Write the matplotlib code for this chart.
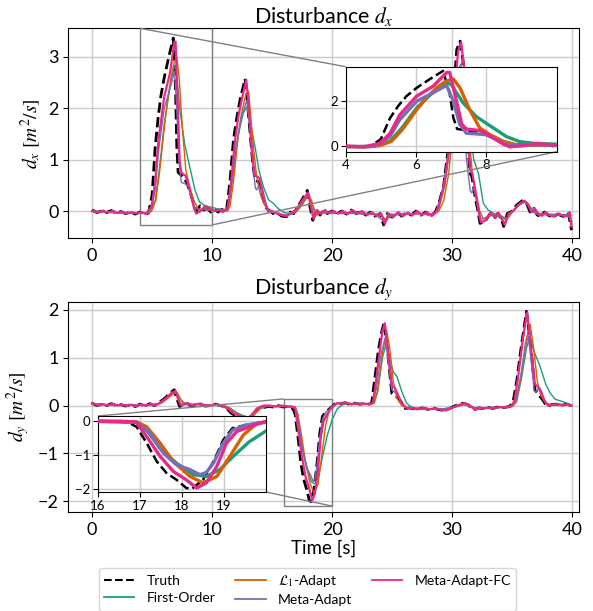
import numpy as np
import matplotlib
matplotlib.use("Agg")
import matplotlib.pyplot as plt
from matplotlib.lines import Line2D
from mpl_toolkits.axes_grid1.inset_locator import mark_inset

plt.rcParams['font.family'] = ['Lato', 'DejaVu Sans']
plt.rcParams['mathtext.fontset'] = 'stix'

# ---------------- data: disturbance d_x ----------------
dx_truth_t = [0.0, 0.4, 0.8, 1.2, 1.6, 2.0, 2.4, 2.8, 3.2, 3.6, 4.0, 4.4, 4.7, 5.0, 5.26, 5.5, 5.73, 6.02, 6.39, 6.77,
              6.96, 7.06, 7.17, 7.5, 7.9, 8.2, 8.48, 8.7, 9.0, 9.3, 9.6, 9.9, 10.2, 10.5, 10.8, 11.2, 11.5, 11.78, 12.05,
              12.33, 12.75, 12.95, 13.17, 13.4, 13.58, 13.86, 14.1, 14.28, 14.55, 14.83, 15.1, 15.4, 15.8, 16.2, 16.5,
              16.8, 17.06, 17.47, 17.94, 18.15, 18.39, 18.7, 19.0, 19.3, 19.6, 20.0, 20.4, 20.8, 21.2, 21.6, 22.0, 22.4,
              22.8, 23.2, 23.6, 24.0, 24.3, 24.6, 25.0, 25.4, 25.8, 26.2, 26.6, 27.0, 27.4, 27.8, 28.2, 28.6, 28.9, 29.28,
              29.7, 30.1, 30.39, 30.67, 30.94, 31.2, 31.5, 31.65, 31.92, 32.15, 32.33, 32.75, 33.17, 33.5, 33.8, 34.1,
              34.3, 34.6, 35.0, 35.4, 35.9, 36.2, 36.5, 36.8, 37.1, 37.4, 37.7, 38.0, 38.4, 38.8, 39.2, 39.5, 39.7, 39.95]
dx_truth_v = [0.02, -0.03, 0.0, -0.03, 0.01, -0.04, -0.01, -0.05, -0.02, -0.06, -0.02, -0.06, -0.04, 0.3, 1.24, 1.8,
              2.23, 2.6, 2.99, 3.36, 2.32, 1.26, 0.75, 0.68, 0.55, 0.35, 0.13, 0.0, 0.1, 0.02, 0.05, -0.02, 0.03, -0.02,
              0.03, 0.0, 0.6, 1.38, 1.8, 2.16, 2.57, 2.1, 1.51, 0.9, 0.6, 0.57, 0.4, 0.21, 0.05, 0.0, -0.05, -0.03, -0.1,
              -0.11, -0.02, -0.05, 0.05, 0.21, 0.4, 0.1, -0.18, 0.02, -0.08, 0.02, -0.05, 0.0, -0.05, 0.0, -0.06, 0.02,
              -0.05, 0.0, -0.08, -0.02, -0.1, -0.05, -0.27, -0.05, -0.12, -0.02, -0.1, -0.03, -0.08, 0.0, -0.08, -0.02,
              -0.1, -0.02, 0.15, 0.47, 1.25, 2.23, 3.14, 3.3, 2.88, 1.58, 0.73, 0.67, 0.28, 0.0, -0.24, -0.2, -0.05,
              -0.15, -0.05, -0.15, -0.3, -0.05, 0.0, 0.12, 0.21, 0.15, -0.02, 0.05, -0.08, -0.1, -0.02, -0.08, -0.12,
              -0.06, -0.1, -0.12, -0.05, -0.37]

dx_fo_t = [0, 1, 2, 3, 4, 4.8, 5.26, 5.6, 6.02, 6.45, 6.87, 7.0, 7.34, 7.72, 8.1, 8.57, 8.95, 9.4, 10.0, 10.5, 11.0, 11.4,
           11.8, 12.2, 12.6, 12.9, 13.2, 13.58, 13.9, 14.28, 14.7, 15.1, 15.5, 16.0, 16.6, 17.0, 17.5, 18.0, 18.3, 18.7,
           19.2, 20.0, 21.0, 22.0, 23.0, 24.0, 24.5, 25.0, 26.0, 27.0, 28.0, 28.5, 28.9, 29.4, 29.8, 30.2, 30.6, 30.9,
           31.2, 31.5, 31.8, 32.2, 32.6, 33.0, 33.5, 34.0, 34.5, 35.0, 35.6, 36.1, 36.5, 37.0, 38.0, 39.0, 39.7, 39.95]
dx_fo_v = [0.0, -0.02, -0.03, -0.04, -0.04, -0.03, 0.2, 0.8, 1.7, 2.35, 2.83, 2.75, 1.92, 1.3, 0.9, 0.41, 0.18, 0.1,
           0.07, 0.04, 0.02, 0.1, 0.8, 1.5, 1.9, 2.03, 1.7, 1.25, 0.8, 0.47, 0.22, 0.15, 0.05, -0.03, -0.05, 0.0, 0.12,
           0.33, 0.15, -0.05, -0.03, -0.04, -0.05, -0.04, -0.06, -0.07, -0.17, -0.08, -0.06, -0.05, -0.07, -0.06, 0.05,
           0.5, 1.2, 2.1, 2.7, 2.75, 2.2, 1.6, 1.0, 0.73, 0.15, 0.02, -0.05, -0.08, -0.15, -0.02, 0.12, 0.18, 0.08,
           -0.04, -0.06, -0.07, -0.07, -0.2]

dx_l1_t = [0, 1, 2, 3, 4, 4.6, 4.97, 5.3, 5.6, 6.02, 6.3, 6.58, 6.85, 7.06, 7.25, 7.53, 7.81, 8.1, 8.48, 8.86, 9.3, 9.8,
           10.3, 10.8, 11.3, 11.5, 11.8, 12.1, 12.45, 12.8, 13.03, 13.2, 13.44, 13.7, 14.0, 14.3, 14.55, 15.0, 15.5,
           16.0, 16.5, 17.0, 17.5, 18.05, 18.3, 18.6, 18.9, 19.3, 20, 21, 22, 23, 24, 24.5, 24.8, 25.5, 26.5, 27.5,
           28.5, 28.9, 29.3, 29.7, 30.1, 30.5, 30.9, 31.1, 31.4, 31.7, 32.0, 32.3, 32.6, 33.0, 33.5, 34.0, 34.5, 35.0,
           35.5, 36.05, 36.4, 36.7, 37.2, 38.0, 39.0, 39.7, 39.95]
dx_l1_v = [0.0, -0.02, -0.03, -0.04, -0.04, -0.05, 0.0, 0.2, 0.7, 1.62, 2.15, 2.6, 2.9, 3.0, 2.6, 1.6, 0.8, 0.5, 0.2,
           0.04, 0.03, 0.02, 0.0, 0.01, 0.0, 0.1, 0.6, 1.3, 1.9, 2.25, 2.33, 1.9, 1.25, 0.7, 0.34, 0.15, 0.05, -0.02,
           -0.05, -0.08, -0.07, -0.02, 0.12, 0.32, 0.2, -0.1, -0.05, -0.03, -0.03, -0.04, -0.04, -0.06, -0.06, -0.2,
           -0.08, -0.06, -0.06, -0.05, -0.07, 0.0, 0.2, 0.7, 1.6, 2.6, 2.97, 2.6, 1.5, 0.7, 0.35, 0.0, -0.15, -0.1,
           -0.08, -0.1, -0.18, -0.03, 0.1, 0.2, 0.12, 0.0, -0.06, -0.07, -0.08, -0.08, -0.25]

dx_meta_t = [0, 1, 2, 3, 4, 4.7, 5.0, 5.26, 5.54, 6.02, 6.49, 6.87, 7.06, 7.24, 7.43, 7.72, 8.0, 8.29, 8.57, 8.9, 9.4,
             9.9, 10.5, 11.0, 11.3, 11.6, 12.0, 12.4, 12.9, 13.15, 13.4, 13.6, 13.72, 13.9, 14.2, 14.5, 14.9, 15.5, 16.2,
             16.8, 17.3, 18.0, 18.2, 18.5, 18.8, 19.3, 20.5, 21.5, 22.5, 23.5, 24.35, 24.8, 26.0, 27.0, 28.0, 28.7, 29.1,
             29.5, 29.9, 30.3, 30.7, 30.95, 31.2, 31.5, 31.65, 31.8, 32.0, 32.3, 32.8, 33.3, 33.8, 34.4, 34.8, 35.5, 36.0,
             36.4, 36.7, 37.2, 38.0, 39.0, 39.7, 39.95]
dx_meta_v = [0.0, -0.02, -0.03, -0.04, -0.04, -0.04, 0.1, 0.42, 1.17, 2.0, 2.38, 2.71, 2.0, 0.97, 0.56, 0.53, 0.49, 0.26,
             0.06, 0.02, 0.05, 0.02, 0.01, 0.02, 0.05, 0.5, 1.25, 1.8, 2.15, 1.6, 0.9, 0.45, 0.41, 0.5, 0.3, 0.08, -0.02,
             -0.05, -0.08, -0.03, 0.1, 0.35, 0.15, -0.1, -0.01, -0.03, -0.05, -0.04, -0.06, -0.06, -0.2, -0.06, -0.07,
             -0.05, -0.07, -0.03, 0.25, 0.8, 1.7, 2.5, 2.85, 2.2, 1.0, 0.41, 0.35, 0.45, 0.25, -0.15, -0.15, -0.06, -0.1,
             -0.22, -0.05, 0.1, 0.18, 0.1, -0.02, -0.07, -0.07, -0.07, -0.08, -0.22]

dx_fc_t = [0.0, 0.5, 0.9, 1.3, 1.7, 2.1, 2.5, 2.9, 3.3, 3.7, 4.1, 4.5, 4.97, 5.26, 5.54, 6.02, 6.49, 6.87, 6.96, 7.15,
           7.3, 7.43, 7.81, 8.1, 8.48, 8.67, 9.05, 9.43, 9.8, 10.2, 10.6, 10.9, 11.3, 11.6, 11.9, 12.2, 12.5, 12.85,
           13.05, 13.3, 13.55, 13.94, 14.2, 14.45, 14.7, 15.0, 15.4, 15.8, 16.2, 16.6, 17.0, 17.5, 18.0, 18.2, 18.45,
           18.75, 19.05, 19.4, 19.7, 20.1, 20.5, 20.9, 21.3, 21.7, 22.1, 22.5, 22.9, 23.3, 23.7, 24.1, 24.4, 24.7, 25.1,
           25.5, 25.9, 26.3, 26.7, 27.1, 27.5, 27.9, 28.3, 28.7, 29.0, 29.4, 29.8, 30.2, 30.5, 30.75, 31.0, 31.25, 31.5,
           31.7, 32.0, 32.4, 32.8, 33.2, 33.6, 33.9, 34.4, 34.7, 35.1, 35.5, 36.0, 36.3, 36.6, 36.9, 37.2, 37.5, 37.8,
           38.1, 38.5, 38.9, 39.3, 39.6, 39.8, 39.95]
dx_fc_v = [0.0, -0.03, 0.01, -0.03, 0.0, -0.04, -0.01, -0.05, -0.02, -0.05, -0.02, -0.06, 0.1, 0.55, 1.39, 2.23, 2.68,
           3.29, 3.29, 2.0, 0.97, 0.75, 0.68, 0.45, 0.07, -0.05, 0.0, 0.1, 0.05, 0.0, 0.03, -0.02, 0.05, 0.6, 1.35,
           1.85, 2.2, 2.55, 2.05, 1.2, 0.7, 0.64, 0.4, 0.15, -0.02, 0.0, -0.05, -0.08, -0.1, -0.03, 0.02, 0.2, 0.36,
           0.12, -0.15, 0.02, -0.06, 0.02, -0.04, 0.0, -0.05, 0.0, -0.06, 0.02, -0.05, 0.0, -0.08, -0.02, -0.1, -0.05,
           -0.25, -0.05, -0.12, -0.02, -0.1, -0.03, -0.08, 0.0, -0.08, -0.02, -0.1, 0.0, 0.2, 0.6, 1.3, 2.3, 3.1, 3.28,
           2.8, 1.6, 0.8, 0.72, 0.3, -0.22, -0.18, -0.04, -0.13, -0.04, -0.27, -0.05, 0.0, 0.12, 0.2, 0.14, -0.02,
           0.05, -0.07, -0.09, -0.02, -0.08, -0.11, -0.05, -0.1, -0.1, -0.02, -0.3]

# ---------------- data: disturbance d_y ----------------
dy_truth_t = [0, 0.4, 0.8, 1.2, 1.6, 2.0, 2.4, 2.8, 3.2, 3.6, 4.0, 4.4, 4.8, 5.2, 5.5, 6.05, 6.5, 6.85, 7.05, 7.3, 7.6,
              7.85, 8.2, 8.5, 8.8, 9.05, 9.4, 9.9, 10.3, 10.7, 11.0, 11.3, 11.6, 12.0, 12.44, 12.8, 13.2, 13.7, 14.28,
              14.7, 15.1, 15.5, 15.9, 16.3, 16.6, 16.78, 16.92, 17.16, 17.4, 17.63, 17.87, 18.1, 18.23, 18.5, 18.75,
              18.98, 19.2, 19.5, 19.97, 20.3, 20.7, 21.1, 21.5, 21.9, 22.3, 22.7, 23.1, 23.3, 23.44, 23.86, 24.1, 24.33,
              24.7, 24.97, 25.4, 25.7, 26.1, 26.5, 27.0, 27.5, 28.0, 28.5, 29.0, 29.4, 29.8, 30.3, 30.9, 31.3, 31.8,
              32.2, 32.6, 33.0, 33.4, 33.8, 34.3, 34.8, 35.1, 35.4, 35.8, 36.2, 36.56, 36.9, 37.3, 37.6, 37.9, 38.3,
              38.7, 39.1, 39.5, 39.95]
dy_truth_v = [0.05, 0.0, 0.03, 0.0, 0.04, 0.0, 0.02, -0.01, 0.02, -0.02, 0.03, -0.01, 0.04, 0.0, 0.05, 0.15, 0.26, 0.33,
              0.15, -0.02, 0.03, 0.06, 0.0, 0.0, 0.05, 0.03, -0.01, 0.0, 0.03, 0.0, -0.02, -0.08, -0.16, -0.22, -0.26,
              -0.3, -0.25, -0.09, -0.04, -0.02, -0.03, 0.0, -0.03, -0.02, -0.03, -0.09, -0.18, -0.66, -1.2, -1.54, -1.74,
              -1.98, -2.01, -1.74, -1.2, -0.57, -0.22, -0.13, -0.03, 0.05, 0.04, 0.06, 0.02, 0.05, 0.03, 0.04, 0.03,
              0.05, 0.33, 1.16, 1.5, 1.74, 0.96, 0.26, 0.18, 0.1, -0.06, -0.05, -0.08, -0.05, -0.08, -0.06, -0.09, -0.1,
              -0.06, 0.0, 0.05, 0.02, -0.09, -0.05, -0.06, -0.04, -0.06, -0.03, -0.04, -0.02, 0.1, 0.54, 1.3, 1.97,
              1.23, 0.33, 0.2, 0.1, -0.02, 0.02, 0.03, 0.0, 0.03, 0.0]

dy_fo_t = [0, 1, 2, 3, 4, 5, 5.7, 6.2, 6.7, 7.0, 7.3, 7.7, 8.2, 9, 10, 11, 11.5, 12, 12.5, 13, 13.5, 14, 14.5, 15.5,
           16.5, 16.92, 17.16, 17.48, 17.87, 18.27, 18.58, 18.9, 19.22, 19.6, 20.0, 20.4, 20.8, 21.3, 22, 23, 23.5,
           23.8, 24.2, 24.5, 24.8, 25.1, 25.4, 25.8, 26.2, 26.6, 27, 28, 29, 30, 31, 32, 33, 34, 35, 35.4, 35.8, 36.2,
           36.5, 36.8, 37.33, 37.8, 38.17, 38.6, 39.0, 39.5, 39.95]
dy_fo_v = [0.03, 0.02, 0.01, 0.01, 0.01, 0.01, 0.05, 0.14, 0.24, 0.27, 0.15, 0.05, 0.03, 0.02, 0.01, -0.01, -0.06, -0.14,
           -0.2, -0.24, -0.18, -0.07, -0.02, -0.02, -0.02, -0.05, -0.28, -0.82, -1.25, -1.59, -1.64, -1.44, -1.05,
           -0.62, -0.3, -0.08, 0.01, 0.04, 0.04, 0.03, 0.05, 0.3, 1.0, 1.3, 1.0, 0.7, 0.61, 0.3, 0.05, -0.03, -0.05,
           -0.07, -0.08, -0.04, 0.02, -0.05, -0.05, -0.04, -0.02, 0.1, 0.6, 1.2, 1.45, 1.15, 0.82, 0.45, 0.26, 0.13,
           0.1, 0.06, 0.0]

dy_l1_t = [0, 1, 2, 3, 4, 5, 5.8, 6.3, 6.8, 7.1, 7.4, 7.7, 8.2, 9, 10, 11, 11.5, 12.0, 12.5, 13.0, 13.5, 14.0, 14.5, 15.5,
           16.5, 16.92, 17.16, 17.48, 17.79, 18.19, 18.5, 18.83, 19.14, 19.46, 19.78, 20.1, 20.5, 21, 22, 23, 23.5,
           23.8, 24.2, 24.56, 24.8, 25.1, 25.4, 25.8, 26.3, 27, 28, 29, 30, 31, 31.5, 32, 33, 34, 35, 35.3, 35.7, 36.1,
           36.5, 36.8, 37.1, 37.4, 37.8, 38.3, 39, 39.95]
dy_l1_v = [0.03, 0.02, 0.01, 0.01, 0.01, 0.01, 0.05, 0.15, 0.25, 0.27, 0.12, 0.02, 0.02, 0.02, 0.01, 0.0, -0.05, -0.15,
           -0.22, -0.27, -0.2, -0.06, 0.0, -0.01, -0.02, -0.03, -0.18, -0.66, -1.2, -1.64, -1.83, -1.64, -1.05, -0.42,
           -0.08, 0.0, 0.05, 0.05, 0.04, 0.03, 0.05, 0.3, 1.1, 1.55, 1.2, 0.5, 0.15, 0.0, -0.06, -0.06, -0.07, -0.08,
           -0.05, 0.02, 0.0, -0.06, -0.05, -0.04, -0.02, 0.05, 0.5, 1.3, 1.7, 1.2, 0.5, 0.2, 0.05, 0.02, 0.02, 0.0]

dy_meta_t = [0, 1, 2, 3, 4, 5, 5.6, 6.1, 6.6, 6.95, 7.2, 7.5, 8, 9, 10, 11, 11.4, 11.8, 12.3, 12.8, 13.2, 13.7, 14.2, 15,
             16, 16.92, 17.24, 17.56, 17.87, 18.19, 18.43, 18.58, 18.75, 18.98, 19.2, 19.5, 19.97, 20.4, 21, 22, 23,
             23.4, 23.7, 24.1, 24.42, 24.7, 24.95, 25.1, 25.4, 25.8, 26.2, 27, 28, 29, 30, 31, 31.6, 32, 33, 34, 35,
             35.3, 35.7, 36.1, 36.35, 36.6, 36.85, 37.0, 37.3, 37.6, 38.0, 38.5, 39, 39.95]
dy_meta_v = [0.04, 0.02, 0.01, 0.01, 0.02, 0.01, 0.05, 0.14, 0.25, 0.3, 0.12, 0.01, 0.03, 0.02, 0.01, -0.01, -0.06,
             -0.14, -0.22, -0.28, -0.22, -0.06, -0.01, -0.01, -0.02, -0.05, -0.37, -0.96, -1.3, -1.44, -1.59, -1.52,
             -1.25, -0.66, -0.28, -0.13, -0.05, 0.04, 0.05, 0.04, 0.03, 0.05, 0.35, 1.1, 1.41, 0.9, 0.35, 0.3, 0.25,
             0.05, -0.05, -0.06, -0.07, -0.08, -0.04, 0.03, -0.03, -0.06, -0.05, -0.04, -0.01, 0.1, 0.6, 1.2, 1.45, 0.9,
             0.3, 0.29, 0.38, 0.15, 0.0, 0.02, 0.03, 0.0]

dy_fc_t = [0, 0.5, 0.9, 1.3, 1.7, 2.1, 2.5, 2.9, 3.3, 3.7, 4.1, 4.5, 4.9, 5.3, 5.6, 6.15, 6.6, 6.95, 7.15, 7.4, 7.7, 7.95,
           8.3, 8.9, 9.5, 10.0, 10.4, 10.8, 11.4, 11.7, 12.1, 12.5, 12.9, 13.3, 13.8, 14.3, 14.8, 15.3, 15.8, 16.3,
           16.7, 16.92, 17.16, 17.48, 17.79, 18.1, 18.35, 18.58, 18.83, 19.06, 19.3, 19.6, 19.97, 20.4, 20.8, 21.2,
           21.6, 22.0, 22.4, 22.8, 23.2, 23.4, 23.6, 24.0, 24.2, 24.4, 24.75, 25.0, 25.2, 25.5, 25.8, 26.2, 26.6, 27.1,
           27.6, 28.1, 28.6, 29.1, 29.5, 29.9, 30.4, 31.0, 31.4, 31.9, 32.3, 32.7, 33.1, 33.5, 33.9, 34.4, 34.9, 35.2,
           35.5, 35.9, 36.25, 36.6, 36.9, 37.1, 37.4, 37.7, 38.0, 38.4, 38.8, 39.2, 39.6, 39.95]
dy_fc_v = [0.05, 0.0, 0.03, 0.0, 0.04, 0.0, 0.02, -0.01, 0.02, -0.02, 0.03, -0.01, 0.04, 0.0, 0.05, 0.15, 0.26, 0.31,
           0.15, 0.0, 0.04, 0.05, 0.0, 0.04, 0.0, 0.0, 0.03, 0.0, -0.08, -0.15, -0.2, -0.25, -0.28, -0.2, -0.05, 0.0,
           0.0, -0.02, 0.0, -0.02, -0.02, -0.05, -0.47, -1.05, -1.49, -1.74, -1.98, -1.83, -1.34, -0.66, -0.32, -0.18,
           -0.03, 0.05, 0.04, 0.06, 0.02, 0.05, 0.03, 0.04, 0.03, 0.06, 0.4, 1.2, 1.55, 1.72, 0.95, 0.4, 0.38, 0.22,
           0.05, -0.05, -0.05, -0.08, -0.05, -0.08, -0.06, -0.09, -0.1, -0.06, 0.0, 0.05, 0.02, -0.09, -0.05, -0.06,
           -0.04, -0.06, -0.03, -0.04, -0.02, 0.1, 0.6, 1.4, 1.95, 1.15, 0.45, 0.4, 0.3, 0.1, 0.0, 0.02, 0.03, 0.0,
           0.03, 0.0]

labels = ['Truth', 'First-Order', r'$\mathcal{L}_1$-Adapt', 'Meta-Adapt', 'Meta-Adapt-FC']
colors = ['black', '#1b9e77', '#d95f02', '#7570b3', '#e7298a']

dx_series = [(dx_truth_t, dx_truth_v), (dx_fo_t, dx_fo_v), (dx_l1_t, dx_l1_v), (dx_meta_t, dx_meta_v), (dx_fc_t, dx_fc_v)]
dy_series = [(dy_truth_t, dy_truth_v), (dy_fo_t, dy_fo_v), (dy_l1_t, dy_l1_v), (dy_meta_t, dy_meta_v), (dy_fc_t, dy_fc_v)]

W, H = 593, 611
fig = plt.figure(figsize=(W / 100, H / 100), dpi=100)
GRID = '#cbcbcb'


def px_axes(l, t, r, b):
    return fig.add_axes([l / W, 1 - b / H, (r - l) / W, (b - t) / H])


def draw(ax, series, main=True):
    for i, ((t, v), c, lab) in enumerate(zip(series, colors, labels)):
        if i == 0:
            ax.plot(t, v, color=c, ls='--', lw=2.0 if main else 1.8, label=lab, zorder=3)
        else:
            ax.plot(t, v, color=c, lw=(1.6 if i == 4 else 1.0) if main else 2.4, label=lab, zorder=3 + i)
    ax.grid(True, color=GRID, lw=1.0)
    ax.set_axisbelow(True)


ax1 = px_axes(68.3, 28.3, 579.3, 238.3)
ax2 = px_axes(68.3, 301.7, 579.3, 512.3)

draw(ax1, dx_series)
draw(ax2, dy_series)

for ax in (ax1, ax2):
    ax.set_xlim(-1.98, 40.6)
    ax.set_xticks([0, 10, 20, 30, 40])
    ax.tick_params(labelsize=13)

ax1.set_ylim(-0.53, 3.55)
ax1.set_yticks([0, 1, 2, 3])
ax2.set_ylim(-2.23, 2.17)
ax2.set_yticks([-2, -1, 0, 1, 2])

ax1.set_title(r'Disturbance $d_x$', fontsize=15.5, pad=4)
ax2.set_title(r'Disturbance $d_y$', fontsize=15.5, pad=4)
ax1.set_ylabel(r'$d_x\ [m^2/s]$', fontsize=14, labelpad=4)
ax2.set_ylabel(r'$d_y\ [m^2/s]$', fontsize=14, labelpad=4)
ax2.set_xlabel('Time [s]', fontsize=13.5, labelpad=1)

# insets
ins1 = px_axes(345.7, 66.7, 556.7, 151.7)
draw(ins1, dx_series, main=False)
ins1.set_xlim(4, 10)
ins1.set_ylim(-0.27, 3.55)
ins1.set_xticks([4, 6, 8])
ins1.set_yticks([0, 2])
ins1.tick_params(labelsize=9.5, pad=2)
ins1.set_zorder(10)
mark_inset(ax1, ins1, loc1=2, loc2=4, fc='none', ec='0.5', lw=1.0)

ins2 = px_axes(98, 416, 266, 492)
draw(ins2, dy_series, main=False)
ins2.set_xlim(16, 20)
ins2.set_ylim(-2.1, 0.14)
ins2.set_xticks([16, 17, 18, 19])
ins2.set_yticks([0, -1, -2])
ins2.tick_params(labelsize=9.5, pad=2)
ins2.set_zorder(10)
mark_inset(ax2, ins2, loc1=2, loc2=4, fc='none', ec='0.5', lw=1.0)

leg_handles = [Line2D([], [], color='black', ls='--', lw=1.5)] + \
              [Line2D([], [], color=c, lw=1.3) for c in colors[1:]]
fig.legend(leg_handles, labels, loc='upper center', bbox_to_anchor=(307.5 / W, 1 - 561 / H), ncol=3,
           fontsize=10, frameon=True, handlelength=2.2, columnspacing=1.4, borderpad=0.35, labelspacing=0.35,
           handletextpad=0.9)

fig.savefig('out.png', dpi=100)
